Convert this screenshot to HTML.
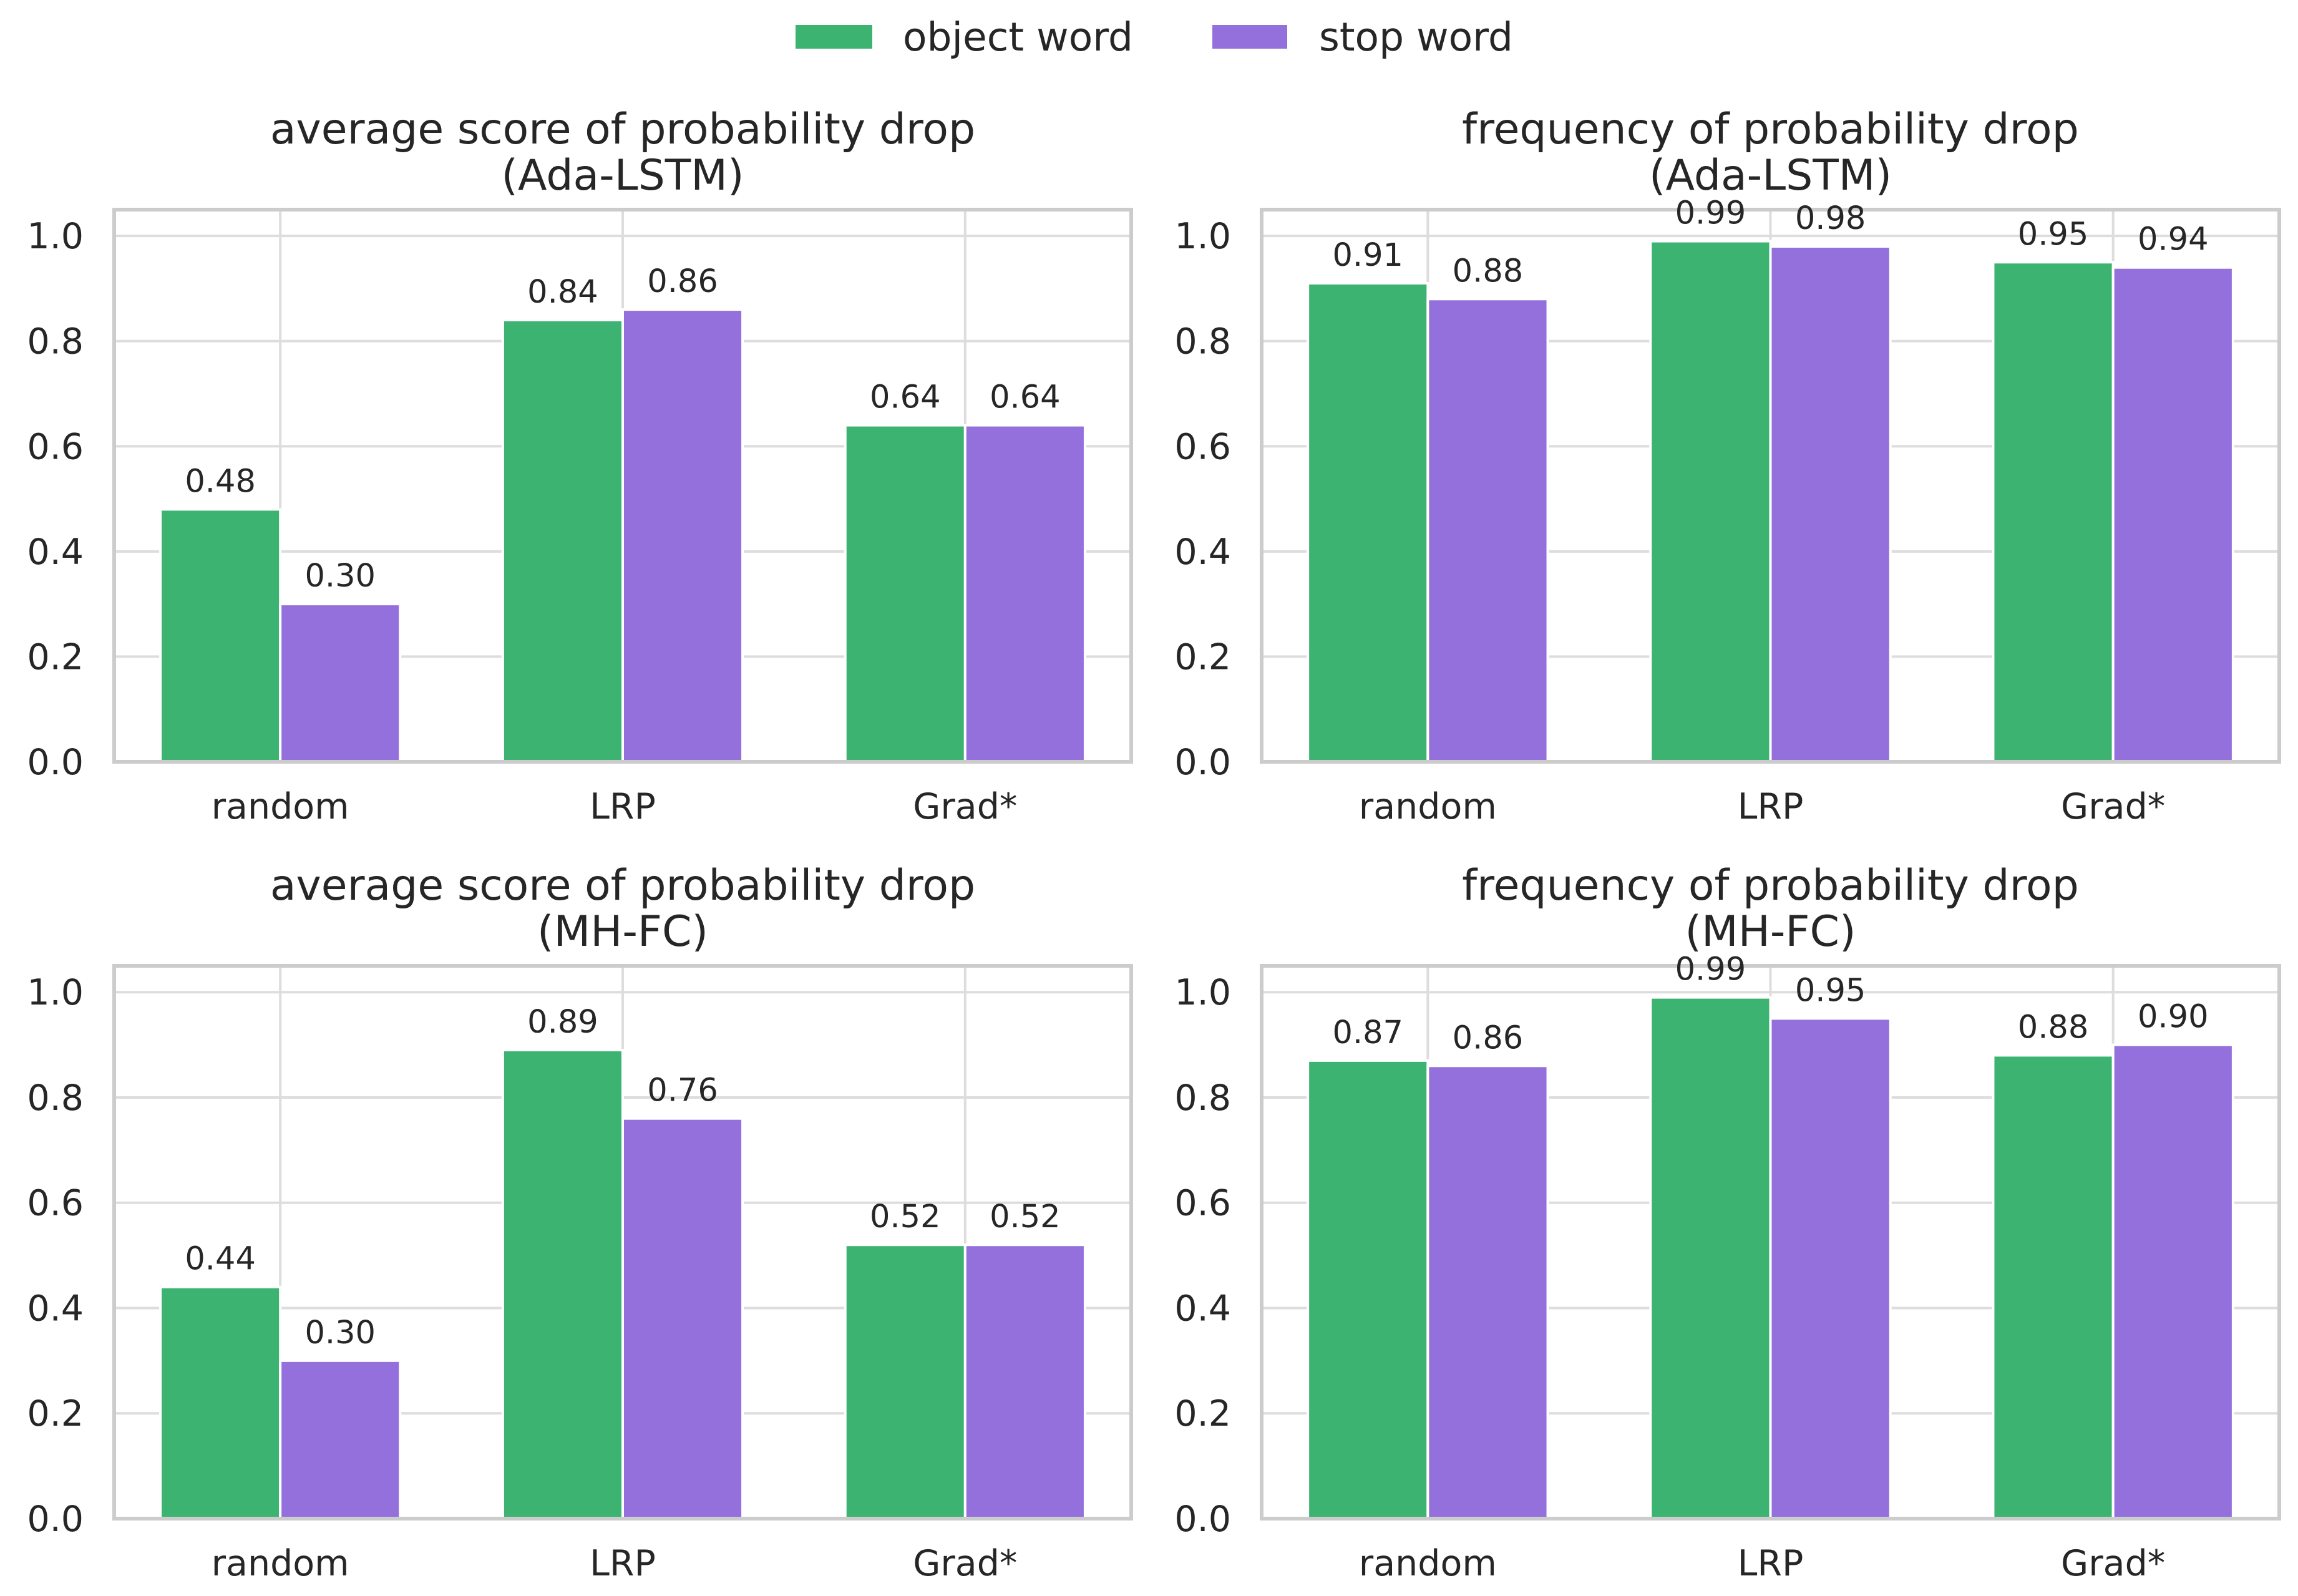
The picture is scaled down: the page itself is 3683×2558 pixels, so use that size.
<!DOCTYPE html>
<html><head><meta charset="utf-8"><style>
html,body{margin:0;padding:0;background:#fff;}
svg{display:block;font-family:"DejaVu Sans","Liberation Sans",sans-serif;}
</style></head><body>
<svg id="chart" width="3683" height="2558" viewBox="0 0 3683 2558" xmlns="http://www.w3.org/2000/svg">
<g>
<rect x="1275" y="40" width="123" height="38" fill="#3cb371"/>
<text x="1447" y="81" font-size="63" fill="#262626">object word</text>
<rect x="1943" y="40" width="120" height="38" fill="#9370db"/>
<text x="2114" y="81" font-size="63" fill="#262626">stop word</text>
</g>
</svg>
<script>
const categories = ["random", "LRP", "Grad*"];
const yTicks = [0.0, 0.2, 0.4, 0.6, 0.8, 1.0];
const avgAdaObject = [0.48, 0.84, 0.64];
const avgAdaStop = [0.30, 0.86, 0.64];
const freqAdaObject = [0.91, 0.99, 0.95];
const freqAdaStop = [0.88, 0.98, 0.94];
const avgMhObject = [0.44, 0.89, 0.52];
const avgMhStop = [0.30, 0.76, 0.52];
const freqMhObject = [0.87, 0.99, 0.88];
const freqMhStop = [0.86, 0.95, 0.90];
const titlesLine1 = ["average score of probability drop", "frequency of probability drop", "average score of probability drop", "frequency of probability drop"];
const titlesLine2 = ["(Ada-LSTM)", "(Ada-LSTM)", "(MH-FC)", "(MH-FC)"];

const NS = "http://www.w3.org/2000/svg";
const svg = document.getElementById("chart");
function mk(tag, attrs, parent) {
  const e = document.createElementNS(NS, tag);
  for (const k in attrs) e.setAttribute(k, attrs[k]);
  parent.appendChild(e);
  return e;
}
const panels = [
  {x0:183, x1:1813, y0:336, y1:1221, obj:avgAdaObject, stop:avgAdaStop, name:"avg-ada-lstm"},
  {x0:2022, x1:3653, y0:336, y1:1221, obj:freqAdaObject, stop:freqAdaStop, name:"freq-ada-lstm"},
  {x0:183, x1:1813, y0:1548, y1:2434, obj:avgMhObject, stop:avgMhStop, name:"avg-mh-fc"},
  {x0:2022, x1:3653, y0:1548, y1:2434, obj:freqMhObject, stop:freqMhStop, name:"freq-mh-fc"}
];
const XMIN = -0.485, XMAX = 2.485, YMAX = 1.05, BW = 0.35;
panels.forEach((p, i) => {
  const g = mk("g", {}, svg);
  
  
  const sx = v => p.x0 + (v - XMIN) / (XMAX - XMIN) * (p.x1 - p.x0);
  const sy = v => p.y1 - v / YMAX * (p.y1 - p.y0);
  yTicks.forEach(t => {
    const l = mk("line", {x1:p.x0, x2:p.x1, y1:sy(t), y2:sy(t), stroke:"#dddddd", "stroke-width":4}, g);
    
    
    const tx = mk("text", {x:p.x0 - 49, y:sy(t) + 20, "text-anchor":"end", "font-size":57, fill:"#262626"}, g);
    
    
    tx.textContent = t.toFixed(1);
  });
  categories.forEach((c, j) => {
    const l = mk("line", {x1:sx(j), x2:sx(j), y1:p.y0, y2:p.y1, stroke:"#dddddd", "stroke-width":4}, g);
    
    
    const tx = mk("text", {x:sx(j), y:p.y1 + 91, "text-anchor":"middle", "font-size":57, fill:"#262626"}, g);
    
    
    tx.textContent = c;
  });
  const labels = [];
  [[p.obj, "#3cb371", -BW, "object"], [p.stop, "#9370db", 0, "stop"]].forEach(([vals, col, off, nm]) => {
    vals.forEach((v, j) => {
      const xa = sx(j + off), xb = sx(j + off + BW);
      const r = mk("rect", {x:xa, y:sy(v), width:xb - xa, height:sy(0) - sy(v), fill:col, stroke:"#ffffff", "stroke-width":4}, g);
      
      
      labels.push([(xa + xb) / 2, sy(v) - 28, v]);
    });
  });
  const frame = mk("rect", {x:p.x0, y:p.y0, width:p.x1 - p.x0, height:p.y1 - p.y0, fill:"none", stroke:"#cccccc", "stroke-width":6}, g);
  
  
  labels.forEach(([x, y, v]) => {
    const tx = mk("text", {x:x, y:y, "text-anchor":"middle", "font-size":51, fill:"#262626"}, g);
    
    
    tx.textContent = v.toFixed(2);
  });
  const cx = (p.x0 + p.x1) / 2;
  const t1 = mk("text", {x:cx, y:p.y0 - 106, "text-anchor":"middle", "font-size":68, fill:"#262626"}, g);
  
  
  t1.textContent = titlesLine1[i];
  const t2 = mk("text", {x:cx, y:p.y0 - 32, "text-anchor":"middle", "font-size":68, fill:"#262626"}, g);
  
  
  t2.textContent = titlesLine2[i];
});
</script>
</body></html>
